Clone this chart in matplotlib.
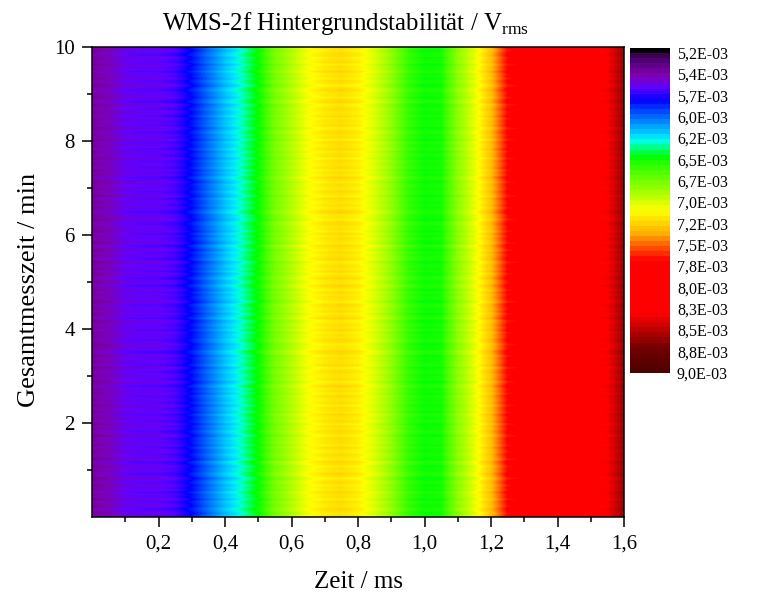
import numpy as np
import matplotlib.pyplot as plt
from matplotlib.colors import LinearSegmentedColormap, Normalize
from matplotlib.cm import ScalarMappable

plt.rcParams['font.family'] = ['Liberation Serif', 'DejaVu Serif']
plt.rcParams['mathtext.fontset'] = 'custom'
plt.rcParams['mathtext.rm'] = 'Liberation Serif'

# signal in 1E-03 V_rms, one value every 0.05 ms
zeit = [0.00, 0.05, 0.10, 0.15, 0.20, 0.25, 0.30, 0.35, 0.40, 0.45, 0.50,
        0.55, 0.60, 0.65, 0.70, 0.75, 0.80, 0.85, 0.90, 0.95, 1.00, 1.05,
        1.10, 1.15, 1.20, 1.25, 1.30, 1.35, 1.40, 1.45, 1.50, 1.55, 1.60]
profil = [5.42, 5.47, 5.56, 5.58, 5.58, 5.62, 5.76, 5.95, 6.12, 6.26, 6.43,
          6.72, 6.88, 7.05, 7.14, 7.18, 7.12, 6.98, 6.80, 6.55, 6.44, 6.46,
          6.78, 7.00, 7.28, 7.66, 7.72, 7.85, 8.10, 8.20, 8.25, 8.30, 8.60]

# drift of each sweep, read by eye from the stripes
drift = [0.02, -0.03, 0.01, 0.04, -0.02, 0.00, 0.03, -0.04, 0.02, -0.01,
         0.05, -0.02, 0.01, -0.03, 0.03, 0.00, -0.05, 0.02, 0.04, -0.01,
         0.01, -0.03, 0.02, 0.05, -0.04, 0.00, 0.03, -0.02, -0.01, 0.04,
         -0.03, 0.02, 0.00, 0.03, -0.05, 0.01, 0.04, -0.02, 0.02, -0.04,
         0.03, 0.00, -0.01, 0.05, -0.03, 0.01, 0.02, -0.04, 0.03, -0.01,
         0.00, 0.04, -0.03, 0.02, -0.02, 0.05, 0.01, -0.04, 0.02, 0.00,
         -0.02, 0.03, 0.01, -0.05, 0.04, 0.00, -0.01, 0.02, -0.03, 0.03,
         0.05, -0.02, 0.00, -0.04, 0.02, 0.03, -0.01, 0.01, -0.03, 0.04,
         -0.02, 0.02, 0.00, -0.04, 0.05, 0.01, -0.03, 0.03, -0.01, 0.02,
         0.04, -0.05, 0.00, 0.02, -0.02, 0.03, -0.03, 0.01, 0.05, -0.01]

farb_pos = [0.0, 0.013, 0.014, 0.04, 0.08, 0.115, 0.155, 0.17, 0.27, 0.285,
            0.33, 0.37, 0.44, 0.50, 0.57, 0.655, 0.82, 0.87, 0.93, 1.0]
farben = ['#000000', '#000000', '#3a0050', '#5a0080', '#7f00b0', '#6000ff',
          '#0000ff', '#0020ff', '#00e0ff', '#00ffe0', '#00ff00', '#40ff00',
          '#a0ff00', '#ffff00', '#ffb000', '#ff0000', '#ff0000', '#c00000',
          '#700000', '#500000']

cb_werte = [5.2, 5.45, 5.71, 5.96, 6.21, 6.47, 6.72, 6.97, 7.23, 7.48, 7.73,
            7.99, 8.24, 8.49, 8.75, 9.0]
cb_labels = ['5,2E-03', '5,4E-03', '5,7E-03', '6,0E-03', '6,2E-03', '6,5E-03',
             '6,7E-03', '7,0E-03', '7,2E-03', '7,5E-03', '7,8E-03', '8,0E-03',
             '8,3E-03', '8,5E-03', '8,8E-03', '9,0E-03']

x_major = [0.2, 0.4, 0.6, 0.8, 1.0, 1.2, 1.4, 1.6]
x_labels = ['0,2', '0,4', '0,6', '0,8', '1,0', '1,2', '1,4', '1,6']
x_minor = [0.1, 0.3, 0.5, 0.7, 0.9, 1.1, 1.3, 1.5]
y_major = [2, 4, 6, 8, 10]
y_minor = [1, 3, 5, 7, 9]

cmap = LinearSegmentedColormap.from_list('origin', list(zip(farb_pos, farben)), N=256)
norm = Normalize(5.14, 9.0)

fig = plt.figure(figsize=(7.64, 5.92), dpi=100)
ax = fig.add_axes([92 / 764, 75 / 592, 532 / 764, 470 / 592])
cax = fig.add_axes([630 / 764, 219 / 592, 40 / 764, 325 / 592])

# one row per sweep, list run forward and back
zeilen = np.concatenate((drift, drift[::-1]))
daten = np.add.outer(zeilen, np.array(profil))
# extent goes half a step past the first and last column so values sit on their times
halb = (zeit[1] - zeit[0]) / 2
ax.imshow(daten, origin='lower', aspect='auto', cmap=cmap, norm=norm,
          extent=[zeit[0] - halb, zeit[-1] + halb, 0, 10],
          interpolation='bilinear', interpolation_stage='data')

ax.set_xlim(0, 1.6)
ax.set_ylim(0, 10)
ax.set_xticks(x_major)
ax.set_xticklabels(x_labels)
ax.set_xticks(x_minor, minor=True)
ax.set_yticks(y_major)
ax.set_yticks(y_minor, minor=True)
ax.tick_params(which='major', length=7.5, width=1.1, labelsize=15, pad=5)
ax.tick_params(which='minor', length=3.8, width=1.1)
for s in ax.spines.values():
    s.set_linewidth(1.1)

ax.set_xlabel('Zeit / ms', fontsize=18, labelpad=13)
ax.set_ylabel('Gesamtmesszeit / min', fontsize=19, labelpad=10, y=0.483)
ax.set_title(r'WMS-2f Hintergrundstabilität / V$_{\mathrm{rms}}$', fontsize=17.9, pad=12, x=0.4765)

# bar stays in coarse steps like the original
cb = fig.colorbar(ScalarMappable(norm=norm, cmap=cmap.resampled(64)), cax=cax, ticks=cb_werte)
cb.ax.invert_yaxis()
cb.ax.set_yticklabels(cb_labels)
cb.ax.tick_params(length=0, labelsize=11.5, pad=5)
cb.outline.set_visible(False)

fig.savefig('out.png', dpi=100)
